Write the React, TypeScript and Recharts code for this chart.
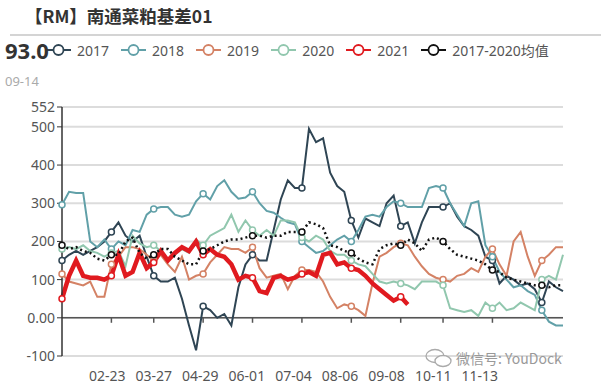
import React from 'react';
import { LineChart, Line, XAxis, YAxis, CartesianGrid, ReferenceLine } from 'recharts';

// x positions: day offsets from the first trading day shown
const DAYS = [
  0, 5, 10, 15, 20, 25, 30, 35, 40, 45, 50, 55, 60, 65, 70, 75, 80, 85, 90, 95,
  100, 105, 110, 115, 120, 125, 130, 135, 140, 145, 150, 155, 160, 165, 170, 175, 180, 185, 190, 195,
  200, 205, 210, 215, 220, 225, 230, 235, 240, 245, 250, 255, 260, 265, 270, 275, 280, 285, 290, 295,
  300, 305, 310, 315, 320, 325, 330, 335, 340, 345, 350, 355,
];

const TICK_DAYS = [32, 65, 98, 131, 164, 197, 230, 263, 296];
const TICK_LABELS = ['02-23', '03-27', '04-29', '06-01', '07-04', '08-06', '09-08', '10-11', '11-13'];
const Y_TICKS = [-100, 0, 100, 200, 300, 400, 500, 552];
const MARKER_IDX = [0, 7, 13, 20, 27, 34, 41, 48, 54, 61, 68];

const S2017 = [
  150, 165, 175, 165, 175, 185, 200, 225, 250, 215, 200, 215, 160, 110, 95, 95, 105, 50, -20, -85,
  30, 20, 0, 10, -20, 80, 140, 165, 150, 150, 230, 310, 360, 340, 340, 495, 460, 470, 380, 345,
  330, 255, 210, 260, 250, 240, 300, 320, 240, 250, 195, 250, 290, 290, 290, 300, 265, 240, 230, 215,
  160, 150, 90, 110, 100, 85, 90, 75, 40, 95, 80, 70,
];
const S2018 = [
  296, 330, 327, 327, 200, 185, 205, 180, 200, 190, 230, 225, 270, 285, 290, 290, 270, 265, 270, 305,
  325, 310, 345, 360, 330, 312, 315, 330, 300, 280, 275, 262, 250, 245, 200, 185, 170, 175, 190, 205,
  215, 200, 230, 265, 270, 265, 290, 305, 300, 290, 290, 290, 340, 345, 340, 300, 270, 240, 300, 305,
  190, 160, 120, 100, 80, 85, 70, 60, 20, -10, -20, -20,
];
const S2019 = [
  115, 95, 90, 85, 95, 55, 55, 140, 160, 185, 185, 180, 165, 150, 165, 140, 120, 160, 100, 110,
  115, 145, 165, 185, 180, 180, 170, 185, 130, 105, 110, 115, 75, 110, 125, 125, 120, 95, 55, 25,
  35, 30, 20, 5, 90, 160, 170, 185, 195, 190, 160, 135, 115, 105, 100, 95, 110, 115, 130, 120,
  160, 180, 140, 110, 200, 225, 160, 110, 150, 165, 185, 185,
];
const S2020 = [
  180, 185, 180, 190, 175, 170, 160, 170, 175, 135, 215, 195, 185, 190, 175, 150, 165, 180, 170, 205,
  190, 215, 225, 235, 270, 225, 255, 230, 215, 230, 215, 255, 255, 250, 210, 200, 215, 205, 175, 165,
  165, 150, 140, 135, 115, 95, 90, 95, 90, 85, 75, 95, 95, 95, 85, 25, 20, 15, 20, 5,
  40, 25, 40, 20, 25, 40, 30, 20, 100, 110, 100, 165,
];
const S2021 = [
  50, 110, 150, 110, 105, 105, 100, 110, 165, 110, 120, 170, 130, 145, 175, 150, 170, 185, 175, 200,
  165, 180, 165, 160, 140, 100, 110, 105, 70, 65, 105, 110, 100, 105, 115, 120, 110, 165, 170, 140,
  145, 130, 125, 110, 90, 75, 60, 45, 55, 35,
];
const SMEAN = [
  190, 180, 185, 175, 170, 155, 150, 165, 165, 200, 210, 170, 155, 165, 180, 180, 160, 150, 140, 140,
  175, 180, 190, 200, 205, 205, 210, 215, 215, 210, 215, 215, 225, 225, 225, 250, 245, 235, 190, 185,
  175, 170, 155, 145, 140, 180, 190, 195, 190, 205, 195, 175, 205, 210, 200, 180, 165, 160, 155, 150,
  140, 125, 120, 105, 100, 95, 90, 85, 85, 80, 85, 85,
];

const SERIES = [
  { key: 'y2017', name: '2017', color: '#2f4554', width: 2 },
  { key: 'y2018', name: '2018', color: '#61a0a8', width: 2 },
  { key: 'y2019', name: '2019', color: '#d48265', width: 2 },
  { key: 'y2020', name: '2020', color: '#91c7ae', width: 2 },
  { key: 'y2021', name: '2021', color: '#e01a1f', width: 4.5 },
  { key: 'mean', name: '2017-2020均值', color: '#111111', width: 2.5, dash: '2 3' },
];

const data = DAYS.map((d, i) => ({
  day: d,
  y2017: S2017[i],
  y2018: S2018[i],
  y2019: S2019[i],
  y2020: S2020[i],
  y2021: i < S2021.length ? S2021[i] : null,
  mean: SMEAN[i],
}));

const FONT = "'Noto Sans', 'Noto Sans CJK SC', sans-serif";

function makeDot(color: string) {
  return (props: any) => {
    const { cx, cy, index } = props;
    if (!MARKER_IDX.includes(index) || cx == null || cy == null) return <g key={`d${index}`} />;
    return <circle key={`d${index}`} cx={cx} cy={cy} r={3} fill="#fff" stroke={color} strokeWidth={1.5} />;
  };
}

function XTick(props: any) {
  const { x, y, payload } = props;
  const idx = TICK_DAYS.indexOf(payload.value);
  return (
    <text x={x} y={y + 17} textAnchor="middle" fill="#555" fontSize={14} fontFamily={FONT}>
      {TICK_LABELS[idx]}
    </text>
  );
}

function LegendIcon({ color }: { color: string }) {
  return (
    <svg width={25} height={14} style={{ display: 'block' }}>
      <line x1={0} y1={7} x2={25} y2={7} stroke={color} strokeWidth={2} />
      <circle cx={12.5} cy={7} r={5} fill="#fff" stroke={color} strokeWidth={1.8} />
    </svg>
  );
}

export default function App() {
  return (
    <div style={{ position: 'absolute', left: 0, top: 0, width: 601, height: 389, background: '#fff', overflow: 'hidden', fontFamily: FONT }}>
      <div style={{ position: 'absolute', left: 25, top: 3, fontSize: 17.5, fontWeight: 700, color: '#333', fontFamily: "'Noto Sans CJK SC', sans-serif", whiteSpace: 'nowrap' }}>
        【RM】南通菜粕基差01
      </div>
      <div style={{ position: 'absolute', left: 10, top: 34, width: 591, height: 2, background: '#d4d4d4' }} />
      <div style={{ position: 'absolute', left: 5, top: 35, fontSize: 22, fontWeight: 700, color: '#333', zIndex: 2 }}>93.0</div>
      <div style={{ position: 'absolute', left: 5, top: 72, fontSize: 13, color: '#aaa' }}>09-14</div>

      <div style={{ position: 'absolute', left: 46, top: 40, display: 'flex', alignItems: 'center', zIndex: 1 }}>
        {SERIES.map(s => (
          <div key={s.key} style={{ display: 'flex', alignItems: 'center', marginRight: 12 }}>
            <LegendIcon color={s.color} />
            <span style={{ marginLeft: 6, fontSize: 14, color: '#555', whiteSpace: 'nowrap' }}>{s.name}</span>
          </div>
        ))}
      </div>

      <div style={{ position: 'absolute', left: 0, top: 0 }}>
        <LineChart width={601} height={389} data={data} margin={{ top: 107, right: 38, bottom: 8, left: 0 }}>
          <CartesianGrid horizontal vertical={false} stroke="#dcdcdc" strokeWidth={2} />
          <XAxis
            type="number"
            dataKey="day"
            domain={[0, 355]}
            ticks={TICK_DAYS}
            interval={0}
            height={25}
            axisLine={false}
            tickLine={false}
            tick={<XTick />}
          />
          <YAxis
            width={62}
            domain={[-100, 552]}
            ticks={Y_TICKS}
            interval={0}
            allowDataOverflow
            tick={{ fill: '#555', fontSize: 14, fontFamily: FONT }}
            tickFormatter={(v: number) => (v === 0 ? '0.00' : String(v))}
            axisLine={{ stroke: '#333', strokeWidth: 1.5 }}
            tickLine={{ stroke: '#333' }}
            tickSize={5}
          />
          <ReferenceLine y={0} stroke="#555" strokeWidth={1.5} />
          {MARKER_IDX.slice(1, 10).map(i => (
            <ReferenceLine
              key={`t${i}`}
              segment={[{ x: DAYS[i], y: 0 }, { x: DAYS[i], y: -13 }]}
              stroke="#555"
              strokeWidth={1.5}
            />
          ))}
          {SERIES.map(s => (
            <Line
              key={s.key}
              dataKey={s.key}
              name={s.name}
              type="linear"
              stroke={s.color}
              strokeWidth={s.width}
              strokeDasharray={s.dash}
              dot={makeDot(s.color)}
              activeDot={false}
              connectNulls={false}
              isAnimationActive={false}
            />
          ))}
        </LineChart>
      </div>

      <div style={{ position: 'absolute', left: 424, top: 348, display: 'flex', alignItems: 'center', color: '#999', fontSize: 14, lineHeight: '15px', fontFamily: "'Noto Sans CJK SC', sans-serif" }}>
        <svg width={30} height={20}>
          <ellipse cx={11} cy={8} rx={9} ry={6.5} fill="none" stroke="#aaa" strokeWidth={1.3} />
          <ellipse cx={19} cy={13} rx={8} ry={5.5} fill="#fff" stroke="#aaa" strokeWidth={1.3} />
        </svg>
        <span style={{ marginLeft: 2 }}>微信号: YouDock</span>
      </div>
    </div>
  );
}
